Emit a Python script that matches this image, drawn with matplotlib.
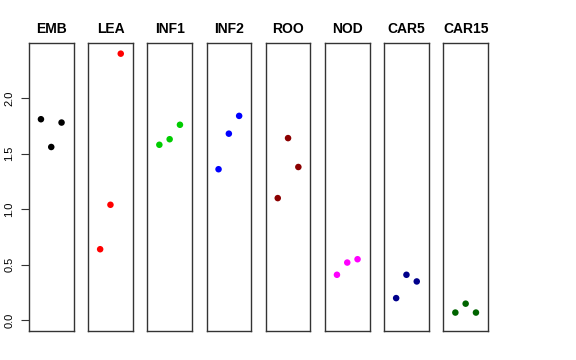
import numpy as np
import matplotlib
matplotlib.use("Agg")
import matplotlib.pyplot as plt

plt.rcParams['font.family'] = ['Liberation Sans', 'DejaVu Sans']

# tissue groups, three replicates each
groups = ["EMB", "LEA", "INF1", "INF2", "ROO", "NOD", "CAR5", "CAR15"]
values = [
    [1.81, 1.56, 1.78],
    [0.64, 1.04, 2.40],
    [1.58, 1.63, 1.76],
    [1.36, 1.68, 1.84],
    [1.10, 1.64, 1.38],
    [0.41, 0.52, 0.55],
    [0.20, 0.41, 0.35],
    [0.07, 0.15, 0.07],
]
colors = ["black", "#FF0000", "#00CD00", "#0000FF", "#8B0000", "#FF00FF", "#00008B", "#006400"]
yticks = [0.0, 0.5, 1.0, 1.5, 2.0]

ymax = max(max(v) for v in values)
pad = 0.04 * ymax

fig = plt.figure(figsize=(5.76, 3.6), dpi=100)
W, H = 576.0, 360.0
left0, step, pw = 29.0, 59.2, 44.5
top, bottom = 43.0, 331.0

for i, (name, vals, col) in enumerate(zip(groups, values, colors)):
    x0 = left0 + i * step
    ax = fig.add_axes([x0 / W, (H - bottom) / H, pw / W, (bottom - top) / H])
    xs = np.arange(1, len(vals) + 1)
    ax.scatter(xs, vals, s=22, color=col, edgecolors='none', zorder=3)
    ax.set_xlim(-0.16, 4.16)
    ax.set_ylim(-pad, ymax + pad)
    ax.set_xticks([])
    for sp in ax.spines.values():
        sp.set_color('#333333')
        sp.set_linewidth(1.0)
    ax.set_title(name, fontsize=10, fontweight='bold', pad=7)
    if i == 0:
        ax.set_yticks(yticks)
        ax.set_yticklabels(["%.1f" % t for t in yticks], rotation=90, va='center', fontsize=8)
        ax.tick_params(axis='y', length=5.5, width=0.8, pad=5, color='#333333')
    else:
        ax.set_yticks([])

fig.savefig("out.png", dpi=100)
